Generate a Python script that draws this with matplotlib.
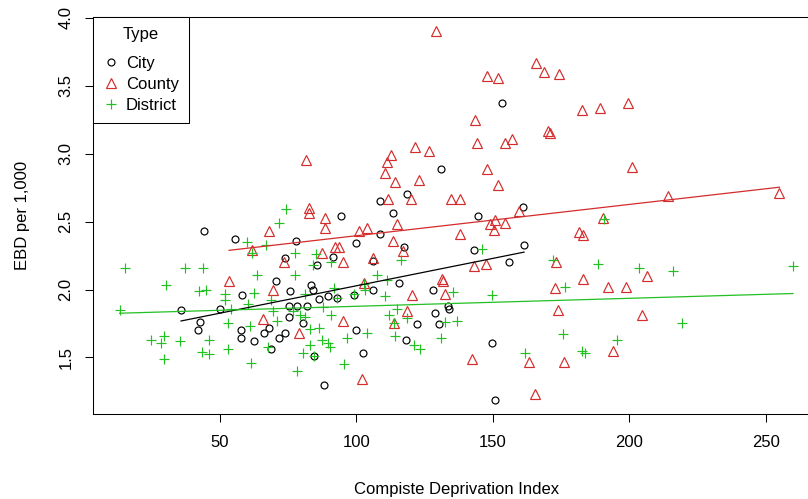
import numpy as np
import matplotlib.pyplot as plt

plt.rcParams['font.family'] = ['Liberation Sans', 'DejaVu Sans']

# Composite deprivation index (x) vs EBD per 1,000 (y), by authority type
city_x = [35.7, 41.8, 42.8, 44.2, 50.0, 55.3, 57.5, 57.7, 58.0, 62.5,
          66.0, 67.9, 68.8, 70.6, 71.6, 73.9, 73.9, 75.1, 75.1, 75.5,
          77.9, 78.3, 80.3, 82.0, 83.5, 84.1, 84.4, 85.7, 86.4, 88.0,
          89.7, 91.3, 93.0, 94.2, 99.1, 99.8, 99.8, 102.5, 106.1, 106.2,
          108.6, 108.6, 113.2, 115.6, 117.5, 118.0, 118.4, 122.3, 128.2, 128.6,
          130.3, 131.0, 133.7, 134.0, 143.1, 144.4, 149.6, 150.9, 153.3, 155.8,
          161.0, 161.4]
city_y = [1.85, 1.70, 1.76, 2.43, 1.86, 2.37, 1.70, 1.64, 1.96, 1.62,
          1.68, 1.72, 1.56, 2.06, 1.645, 2.23, 1.68, 1.88, 1.80, 1.99,
          2.36, 1.88, 1.75, 1.88, 2.03, 2.00, 1.51, 2.18, 1.93, 1.30,
          1.95, 2.24, 1.94, 2.54, 1.96, 2.34, 1.70, 1.535, 2.21, 2.00,
          2.41, 2.65, 2.56, 2.05, 2.31, 1.63, 2.70, 1.745, 2.00, 1.83,
          1.745, 2.89, 1.88, 1.86, 2.29, 2.54, 1.61, 1.19, 3.37, 2.20,
          2.61, 2.33]

county_x = [53.3, 61.7, 65.8, 68.0, 69.5, 73.5, 79.0, 81.6, 82.5, 82.7,
            87.5, 88.4, 88.6, 92.0, 93.6, 94.9, 94.9, 100.9, 102.2, 102.7,
            103.9, 106.1, 110.3, 111.1, 111.5, 112.6, 113.2, 113.7, 114.1, 114.7,
            117.0, 118.4, 120.0, 120.2, 121.5, 123.0, 126.4, 129.0, 131.5, 131.8,
            132.5, 134.8, 137.9, 138.0, 142.3, 142.9, 143.6, 144.0, 147.5, 148.0,
            148.0, 149.0, 150.5, 150.6, 152.0, 152.0, 154.5, 154.5, 157.0, 159.4,
            163.1, 165.6, 165.7, 168.9, 170.3, 171.0, 172.6, 173.3, 173.8, 174.1,
            176.0, 181.5, 182.7, 183.0, 183.0, 189.2, 190.3, 192.3, 194.0, 198.6,
            199.5, 201.1, 204.8, 206.6, 214.3, 255.0]
county_y = [2.06, 2.29, 1.78, 2.43, 2.00, 2.20, 1.68, 2.95, 2.60, 2.56,
            2.27, 2.53, 2.45, 2.31, 2.31, 2.20, 1.77, 2.43, 1.34, 2.05,
            2.45, 2.23, 2.86, 2.94, 2.67, 2.99, 2.36, 1.75, 2.79, 2.48,
            2.28, 1.84, 2.67, 1.96, 3.05, 2.81, 3.02, 3.90, 2.08, 2.06,
            1.97, 2.67, 2.67, 2.41, 1.49, 2.17, 3.25, 3.08, 2.19, 3.57,
            2.89, 2.48, 2.44, 2.51, 3.56, 2.77, 3.08, 2.49, 3.11, 2.58,
            1.47, 1.23, 3.67, 3.60, 3.17, 3.15, 2.01, 2.20, 1.85, 3.59,
            1.47, 2.42, 3.32, 2.40, 2.08, 3.34, 2.53, 2.02, 1.55, 2.02,
            3.37, 2.90, 1.81, 2.10, 2.69, 2.71]

district_x = [13.2, 15.1, 24.6, 28.5, 29.4, 29.3, 30.1, 35.4, 37.0, 42.4,
              43.4, 43.9, 44.9, 45.9, 46.1, 51.7, 51.8, 52.8, 52.8, 54.0,
              59.9, 60.2, 61.0, 61.4, 61.7, 62.4, 63.7, 66.9, 67.5, 68.8,
              69.4, 70.8, 71.6, 74.0, 76.9, 77.6, 77.6, 78.3, 79.4, 80.3,
              81.0, 81.2, 82.8, 82.8, 84.2, 84.4, 85.3, 86.2, 87.3, 87.8,
              89.6, 90.2, 90.7, 90.8, 91.8, 92.9, 95.3, 96.5, 99.0, 102.6,
              103.0, 103.7, 107.4, 110.5, 111.3, 112.0, 113.6, 114.0, 114.8, 116.2,
              118.4, 121.0, 123.3, 131.0, 132.5, 135.2, 136.8, 146.0, 149.6, 161.7,
              172.2, 175.7, 176.3, 182.5, 183.7, 188.6, 190.7, 195.6, 203.5, 216.0,
              219.2, 260.0]
district_y = [1.85, 2.16, 1.625, 1.605, 1.655, 1.49, 2.03, 1.62, 2.16, 1.99,
              1.54, 2.16, 2.00, 1.525, 1.63, 1.97, 1.92, 1.75, 1.565, 1.86,
              2.35, 1.89, 1.73, 1.46, 2.27, 1.975, 2.11, 2.33, 1.575, 1.92,
              1.84, 1.77, 2.49, 2.59, 1.84, 2.27, 2.11, 1.40, 1.81, 1.53,
              1.97, 1.80, 1.71, 1.59, 2.18, 1.51, 2.26, 1.715, 1.625, 1.875,
              1.61, 1.575, 2.20, 1.81, 2.01, 1.94, 1.45, 1.645, 1.97, 2.04,
              2.00, 1.68, 2.11, 1.95, 2.07, 1.81, 1.755, 1.655, 1.855, 2.22,
              1.79, 1.595, 1.56, 1.645, 1.76, 1.985, 1.77, 2.30, 1.96, 1.535,
              2.215, 1.675, 2.02, 1.55, 1.53, 2.19, 2.52, 1.63, 2.16, 2.14,
              1.75, 2.17]

x_ticks = [50, 100, 150, 200, 250]
y_ticks = [1.5, 2.0, 2.5, 3.0, 3.5, 4.0]

red = "#D42C2C"
green = "#22C022"

fig = plt.figure(figsize=(8.08, 4.99), dpi=100)
ax = fig.add_axes([92.7 / 808, 1 - 414.3 / 499, (820 - 92.7) / 808, (414.3 - 16.7) / 499])

groups = [
    ("City", city_x, city_y, "black", "o", 5.0),
    ("County", county_x, county_y, red, "^", 7.0),
    ("District", district_x, district_y, green, "+", 7.5),
]

for name, xs, ys, col, mk, ms in groups:
    ax.plot(xs, ys, linestyle="none", marker=mk, markersize=ms,
            markerfacecolor="none", markeredgecolor=col,
            markeredgewidth=0.85, label=name)

# per-group linear fits, drawn over each group's own x range
for name, xs, ys, col, mk, ms in groups:
    slope, icept = np.polyfit(xs, ys, 1)
    xr = np.array([min(xs), max(xs)])
    ax.plot(xr, icept + slope * xr, color=col, linewidth=0.9)

# R-style 4% padding on the data range
all_x = city_x + county_x + district_x
all_y = city_y + county_y + district_y
px = 0.04 * (max(all_x) - min(all_x))
py = 0.04 * (max(all_y) - min(all_y))
ax.set_xlim(min(all_x) - px, max(all_x) + px)
ax.set_ylim(min(all_y) - py, max(all_y) + py)

ax.set_xticks(x_ticks)
ax.set_xticklabels([str(v) for v in x_ticks])
ax.set_yticks(y_ticks)
ax.set_yticklabels([f"{v:.1f}" for v in y_ticks], rotation=90, va="center")
ax.tick_params(direction="out", length=6, width=0.75, labelsize=12, colors="black")
ax.tick_params(axis="x", pad=9)
ax.tick_params(axis="y", pad=8)
for sp in ax.spines.values():
    sp.set_linewidth(0.75)

ax.set_xlabel("Compiste Deprivation Index", fontsize=12, labelpad=23)
ax.set_ylabel("EBD per 1,000", fontsize=12, labelpad=20)

leg = ax.legend(title="Type", loc="upper left", fancybox=False, edgecolor="black",
                framealpha=1, borderaxespad=0, fontsize=12, title_fontsize=12,
                handlelength=1.0, handletextpad=0.4, borderpad=0.6,
                labelspacing=0.38)
leg.get_frame().set_linewidth(0.75)
# a bit more room between the title and the first entry
leg._legend_box.sep = 10

fig.savefig("out.png", dpi=100)
